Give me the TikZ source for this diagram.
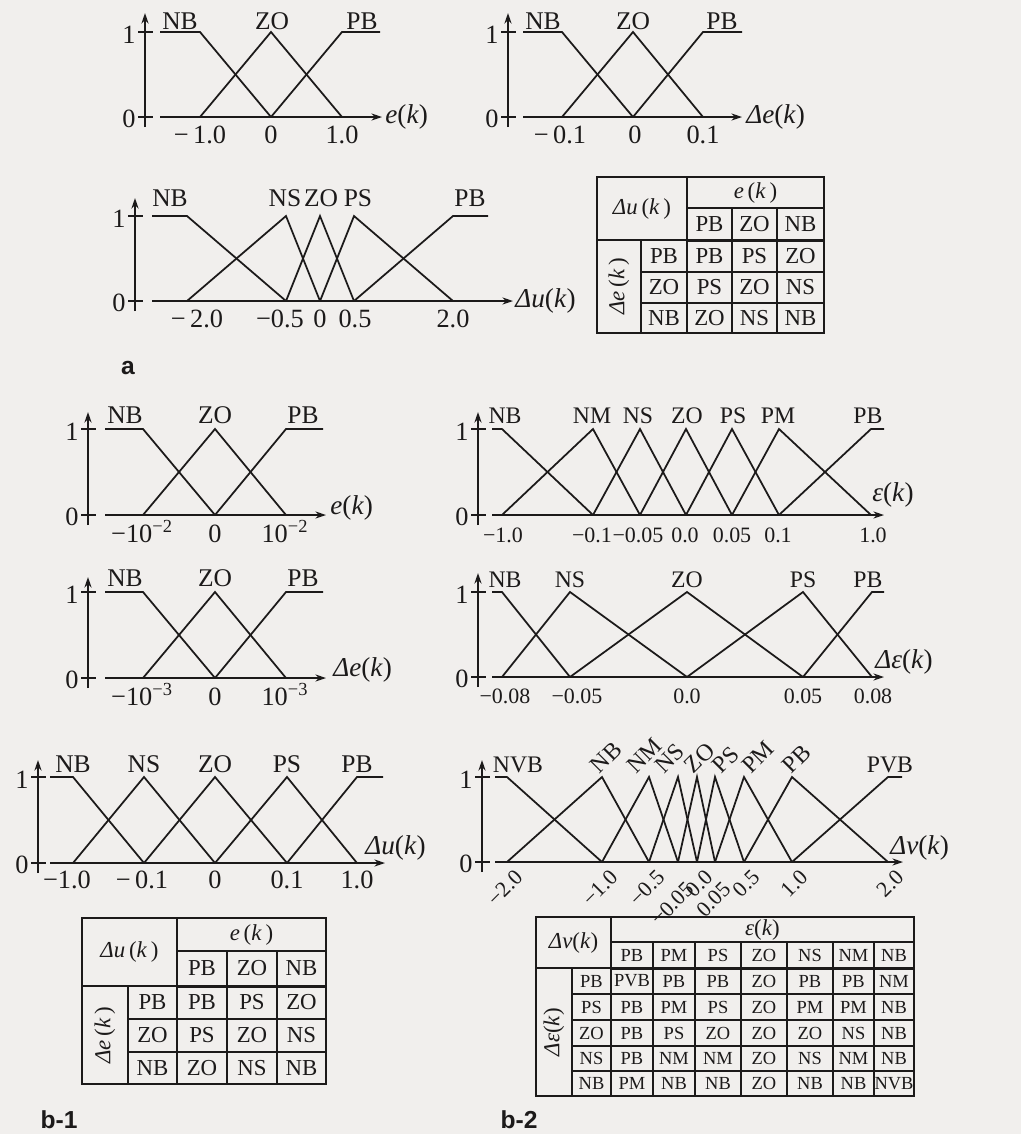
\documentclass[tikz,border=0pt]{standalone}
\usepackage{fontspec}
\setmainfont{Liberation Serif}
\setsansfont{Liberation Sans}
\usetikzlibrary{arrows.meta}
\definecolor{paper}{RGB}{241,239,237}
\definecolor{ink}{RGB}{28,26,26}

\newcommand{\itx}[1]{\textit{#1}}
% axes of one membership plot: x axis, y of 0, y of 1, top, start, end, name
\newcommand{\mfaxes}[7]{%
  \draw[axis] (#1,#2+10) -- (#1,#4);
  \draw[tick] (#1-7,#2) -- (#1+8,#2) (#1-7,#3) -- (#1+8,#3);
  \draw[axis] (#5,#2) -- (#6,#2);
  \node[lvl] (#7-0) at (#1-9,#2+2) {0};
  \node[lvl] (#7-1) at (#1-9,#3+3) {1};
}

\tikzset{
  mf/.style={ink, line width=1pt},
  axis/.style={ink, line width=1pt, -{Stealth[length=6pt,width=4pt]}},
  tick/.style={ink, line width=1pt},
  fset/.style={ink, font=\fontsize{14.5}{14.5}\selectfont, inner sep=0pt, anchor=base},
  fsetsm/.style={ink, font=\fontsize{13.5}{13.5}\selectfont, inner sep=0pt, anchor=base},
  num/.style={ink, font=\fontsize{15}{15}\selectfont, inner sep=0pt, anchor=base},
  numsm/.style={ink, font=\fontsize{12.5}{12.5}\selectfont, inner sep=0pt, anchor=base},
  lvl/.style={ink, font=\fontsize{15}{15}\selectfont, inner sep=0pt, anchor=east},
  axlbl/.style={ink, font=\fontsize{15.5}{15.5}\selectfont, inner sep=0pt},
  cell/.style={ink, font=\fontsize{13}{13}\selectfont, inner sep=0pt},
  cellsm/.style={ink, font=\fontsize{10.5}{10.5}\selectfont, inner sep=0pt},
  cellrule/.style={ink, line width=0.7pt},
  boldrule/.style={ink, line width=1.7pt},
  framerule/.style={ink, line width=1.2pt},
  part/.style={ink, font=\sffamily\bfseries\fontsize{14}{14}\selectfont, inner sep=0pt},
}

\begin{document}
\begin{tikzpicture}[x=0.02cm, y=-0.02cm]
  \fill[paper] (0,0) rectangle (1021,1134);
  \useasboundingbox (0,0) rectangle (1021,1134);

  % ---------- a: e(k)
  \mfaxes{145}{117}{32}{13}{160}{382}{ea}
  \draw[mf] (160,32) -- (200,32) -- (271,117);
  \draw[mf] (200,117) -- (271,32) -- (342,117);
  \draw[mf] (271,117) -- (342,32) -- (380,32);
  \foreach \x/\t in {180/NB, 272/ZO, 362/PB}
    \node[fset] (ea-\t) at (\x,29) {\t};
  \foreach \x/\t [count=\i] in {200/−\,1.0, 271/0, 342/1.0}
    \node[num] (ea-t\i) at (\x,143) {\t};
  \node[axlbl, anchor=west] (ea-var) at (385,117) {\itx{e}(\itx{k})};

  % ---------- a: delta e(k)
  \mfaxes{508}{117}{32}{13}{523}{742}{da}
  \draw[mf] (523,32) -- (562,32) -- (633,117);
  \draw[mf] (562,117) -- (633,32) -- (703,117);
  \draw[mf] (633,117) -- (703,32) -- (742,32);
  \foreach \x/\t in {543/NB, 633/ZO, 722/PB}
    \node[fset] (da-\t) at (\x,29) {\t};
  \foreach \x/\t [count=\i] in {560/−\,0.1, 635/0, 703/0.1}
    \node[num] (da-t\i) at (\x,143) {\t};
  \node[axlbl, anchor=west] (da-var) at (746,117) {\itx{Δe}(\itx{k})};

  % ---------- a: delta u(k)
  \mfaxes{135}{301}{216}{198}{152}{513}{ua}
  \draw[mf] (152,216) -- (187,216) -- (286,301);
  \foreach \l/\p/\r in {187/286/320, 286/320/354, 320/354/453}
    \draw[mf] (\l,301) -- (\p,216) -- (\r,301);
  \draw[mf] (354,301) -- (453,216) -- (488,216);
  \foreach \x/\t in {170/NB, 285/NS, 321/ZO, 358/PS, 470/PB}
    \node[fset] (ua-\t) at (\x,206) {\t};
  \foreach \x/\t [count=\i] in {197/−\,2.0, 280/−0.5, 320/0, 355/0.5, 453/2.0}
    \node[num] (ua-t\i) at (\x,327) {\t};
  \node[axlbl, anchor=west] (ua-var) at (515,301) {\itx{Δu}(\itx{k})};

  % ---------- a: rule table
  \draw[cellrule] (687,208) -- (824,208) (687,177) -- (687,240)
    (732,208) -- (732,333) (777,208) -- (777,333)
    (641,240) -- (641,333) (597,240) -- (687,240)
    (641,272) -- (824,272) (641,303) -- (824,303);
  \draw[boldrule] (687,240) -- (824,240) (687,240) -- (687,333);
  \draw[framerule] (597,177) rectangle (824,333);
  \node[cell] (ta-hd) at (642,208.5) {\itx{Δu}\,(\itx{k}\,)};
  \node[cell] (ta-e) at (755.5,192.5) {\itx{e}\,(\itx{k}\,)};
  \node[cell, rotate=90] (ta-de) at (619,286.5) {\itx{Δe}\,(\itx{k}\,)};
  \foreach \x/\t in {709.5/PB, 754.5/ZO, 800.5/NB}
    \node[cell] (ta-c\t) at (\x,224) {\t};
  \foreach \y/\h/\a/\b/\c [count=\i] in {256/PB/PB/PS/ZO, 287.5/ZO/PS/ZO/NS, 318/NB/ZO/NS/NB} {
    \node[cell] (ta-r\i) at (664,\y) {\h};
    \node[cell] (ta-\i a) at (709.5,\y) {\a};
    \node[cell] (ta-\i b) at (754.5,\y) {\b};
    \node[cell] (ta-\i c) at (800.5,\y) {\c};
  }
  \node[part] (lbl-a) at (128,368) {a};

  % ---------- b-1: e(k)
  \mfaxes{88}{515}{429}{412}{105}{326}{eb}
  \draw[mf] (105,429) -- (143,429) -- (215,515);
  \draw[mf] (143,515) -- (215,429) -- (286,515);
  \draw[mf] (215,515) -- (286,429) -- (323,429);
  \foreach \x/\t in {125/NB, 215/ZO, 303/PB}
    \node[fset] (eb-\t) at (\x,423) {\t};
  \foreach \x/\t [count=\i] in {142/−10\textsuperscript{−2}, 215/0, 285/10\textsuperscript{−2}}
    \node[num] (eb-t\i) at (\x,542) {\t};
  \node[axlbl, anchor=west] (eb-var) at (330,508) {\itx{e}(\itx{k})};

  % ---------- b-1: delta e(k)
  \mfaxes{88}{678}{592}{577}{105}{326}{db}
  \draw[mf] (105,592) -- (143,592) -- (215,678);
  \draw[mf] (143,678) -- (215,592) -- (286,678);
  \draw[mf] (215,678) -- (286,592) -- (323,592);
  \foreach \x/\t in {125/NB, 215/ZO, 303/PB}
    \node[fset] (db-\t) at (\x,586) {\t};
  \foreach \x/\t [count=\i] in {142/−10\textsuperscript{−3}, 215/0, 285/10\textsuperscript{−3}}
    \node[num] (db-t\i) at (\x,705) {\t};
  \node[axlbl, anchor=west] (db-var) at (333,670) {\itx{Δe}(\itx{k})};

  % ---------- b-1: delta u(k)
  \mfaxes{38}{863}{777}{760}{50}{385}{ub}
  \draw[mf] (50,777) -- (73,777) -- (144,863);
  \foreach \l/\p/\r in {73/144/215, 144/215/287, 215/287/357}
    \draw[mf] (\l,863) -- (\p,777) -- (\r,863);
  \draw[mf] (287,863) -- (357,777) -- (383,777);
  \foreach \x/\t in {73/NB, 144/NS, 215/ZO, 287/PS, 357/PB}
    \node[fset] (ub-\t) at (\x,772) {\t};
  \foreach \x/\t [count=\i] in {67/−1.0, 142/−\,0.1, 215/0, 287/0.1, 357/1.0}
    \node[num] (ub-t\i) at (\x,888) {\t};
  \node[axlbl, anchor=west] (ub-var) at (365,848) {\itx{Δu}(\itx{k})};

  % ---------- b-1: rule table
  \draw[cellrule] (177,951) -- (326,951) (177,918) -- (177,986)
    (227,951) -- (227,1084) (277,951) -- (277,1084)
    (128,986) -- (128,1084) (82,986) -- (177,986)
    (128,1019) -- (326,1019) (128,1052) -- (326,1052);
  \draw[boldrule] (177,986) -- (326,986) (177,986) -- (177,1084);
  \draw[framerule] (82,918) rectangle (326,1084);
  \node[cell] (tb-hd) at (129.5,952) {\itx{Δu}\,(\itx{k}\,)};
  \node[cell] (tb-e) at (251.5,934.5) {\itx{e}\,(\itx{k}\,)};
  \node[cell, rotate=90] (tb-de) at (105,1035) {\itx{Δe}\,(\itx{k}\,)};
  \foreach \x/\t in {202/PB, 252/ZO, 301.5/NB}
    \node[cell] (tb-c\t) at (\x,968.5) {\t};
  \foreach \y/\h/\a/\b/\c [count=\i] in {1002.5/PB/PB/PS/ZO, 1035.5/ZO/PS/ZO/NS, 1068/NB/ZO/NS/NB} {
    \node[cell] (tb-r\i) at (152.5,\y) {\h};
    \node[cell] (tb-\i a) at (202,\y) {\a};
    \node[cell] (tb-\i b) at (252,\y) {\b};
    \node[cell] (tb-\i c) at (301.5,\y) {\c};
  }
  \node[part] (lbl-b1) at (59,1120) {b-1};

  % ---------- b-2: epsilon(k)
  \mfaxes{478}{515}{429}{412}{492}{884}{ec}
  \draw[mf] (492,429) -- (502,429) -- (593,515);
  \foreach \l/\p/\r in {502/593/640, 593/640/686, 640/686/732, 686/732/779, 732/779/871}
    \draw[mf] (\l,515) -- (\p,429) -- (\r,515);
  \draw[mf] (779,515) -- (871,429) -- (884,429);
  \foreach \x/\t in {505/NB, 592/NM, 638/NS, 687/ZO, 733/PS, 778/PM, 868/PB}
    \node[fsetsm] (ec-\t) at (\x,423) {\t};
  \foreach \x/\t [count=\i] in {503/−1.0, 592/−0.1, 638/−0.05, 685/0.0, 732/0.05, 778/0.1, 873/1.0}
    \node[numsm] (ec-t\i) at (\x,542) {\t};
  \node[axlbl, anchor=west] (ec-var) at (872,495) {\itx{ε}(\itx{k})};

  % ---------- b-2: delta epsilon(k)
  \mfaxes{478}{677}{592}{573}{492}{884}{dc}
  \draw[mf] (492,592) -- (502,592) -- (570,677);
  \foreach \l/\p/\r in {502/570/687, 570/687/803, 687/803/872}
    \draw[mf] (\l,677) -- (\p,592) -- (\r,677);
  \draw[mf] (803,677) -- (872,592) -- (884,592);
  \foreach \x/\t in {505/NB, 570/NS, 687/ZO, 803/PS, 868/PB}
    \node[fsetsm] (dc-\t) at (\x,587) {\t};
  \foreach \x/\t [count=\i] in {505/−0.08, 577/−0.05, 687/0.0, 803/0.05, 873/0.08}
    \node[numsm] (dc-t\i) at (\x,703) {\t};
  \node[axlbl, anchor=west] (dc-var) at (875,662) {\itx{Δε}(\itx{k})};

  % ---------- b-2: delta nu(k)
  \mfaxes{482}{862}{777}{760}{495}{903}{vc}
  \draw[mf] (495,777) -- (507,777) -- (602,862);
  \foreach \l/\p/\r in {507/602/649, 602/649/678, 649/678/697, 678/697/715,
                        697/715/744, 715/744/792, 744/792/888}
    \draw[mf] (\l,862) -- (\p,777) -- (\r,862);
  \draw[mf] (792,862) -- (888,777) -- (902,777);
  \node[fsetsm] (vc-NVB) at (518,772) {NVB};
  \node[fsetsm] (vc-PVB) at (890,772) {PVB};
  \foreach \x/\t in {600/NB, 636/NM, 665/NS, 694/ZO, 722/PS, 751/PM, 792/PB}
    \node[fsetsm, anchor=south west, rotate=45] (vc-\t) at (\x,775) {\t};
  \foreach \x/\dy/\t [count=\i] in {507/0/−2.0, 602/0/−1.0, 649/0/−0.5, 678/12/−0.05, 697/0/0.0,
                                   715/12/0.05, 744/0/0.5, 792/0/1.0, 888/0/2.0}
    \node[numsm, anchor=north east, rotate=45] (vc-t\i) at (\x+7,868+\dy) {\t};
  \node[axlbl, anchor=west] (vc-var) at (890,848) {\itx{Δν}(\itx{k})};

  % ---------- b-2: rule table
  \draw[cellrule] (611,942) -- (914,942) (611,917) -- (611,968)
    (572,968) -- (572,1096) (536,968) -- (611,968);
  \foreach \x in {653, 695, 741, 787, 833, 874}
    \draw[cellrule] (\x,942) -- (\x,1096);
  \foreach \y in {994, 1020, 1046, 1071}
    \draw[cellrule] (572,\y) -- (914,\y);
  \draw[boldrule] (611,968) -- (914,968) (611,968) -- (611,1096);
  \draw[framerule] (536,917) rectangle (914,1096);
  \node[cell] (tc-hd) at (573.5,942.5) {\itx{Δν}(\itx{k})};
  \node[cell] (tc-e) at (762.5,929.5) {\itx{ε}(\itx{k})};
  \node[cell, rotate=90] (tc-de) at (554,1032) {\itx{Δε}(\itx{k})};
  \foreach \x/\t in {632/PB, 674/PM, 718/PS, 764/ZO, 810/NS, 853.5/NM, 894/NB}
    \node[cellsm] (tc-c\t) at (\x,955) {\t};
  \foreach \y/\h/\a/\b/\c/\d/\e/\f/\g [count=\i] in {
      981/PB/PVB/PB/PB/ZO/PB/PB/NM,
      1007/PS/PB/PM/PS/ZO/PM/PM/NB,
      1033/ZO/PB/PS/ZO/ZO/ZO/NS/NB,
      1058.5/NS/PB/NM/NM/ZO/NS/NM/NB,
      1083.5/NB/PM/NB/NB/ZO/NB/NB/NVB} {
    \node[cellsm] (tc-r\i) at (591.5,\y) {\h};
    \node[cellsm] (tc-\i a) at (632,\y) {\a};
    \node[cellsm] (tc-\i b) at (674,\y) {\b};
    \node[cellsm] (tc-\i c) at (718,\y) {\c};
    \node[cellsm] (tc-\i d) at (764,\y) {\d};
    \node[cellsm] (tc-\i e) at (810,\y) {\e};
    \node[cellsm] (tc-\i f) at (853.5,\y) {\f};
    \node[cellsm] (tc-\i g) at (894,\y) {\g};
  }
  \node[part] (lbl-b2) at (519,1120) {b-2};
\end{tikzpicture}
\end{document}
